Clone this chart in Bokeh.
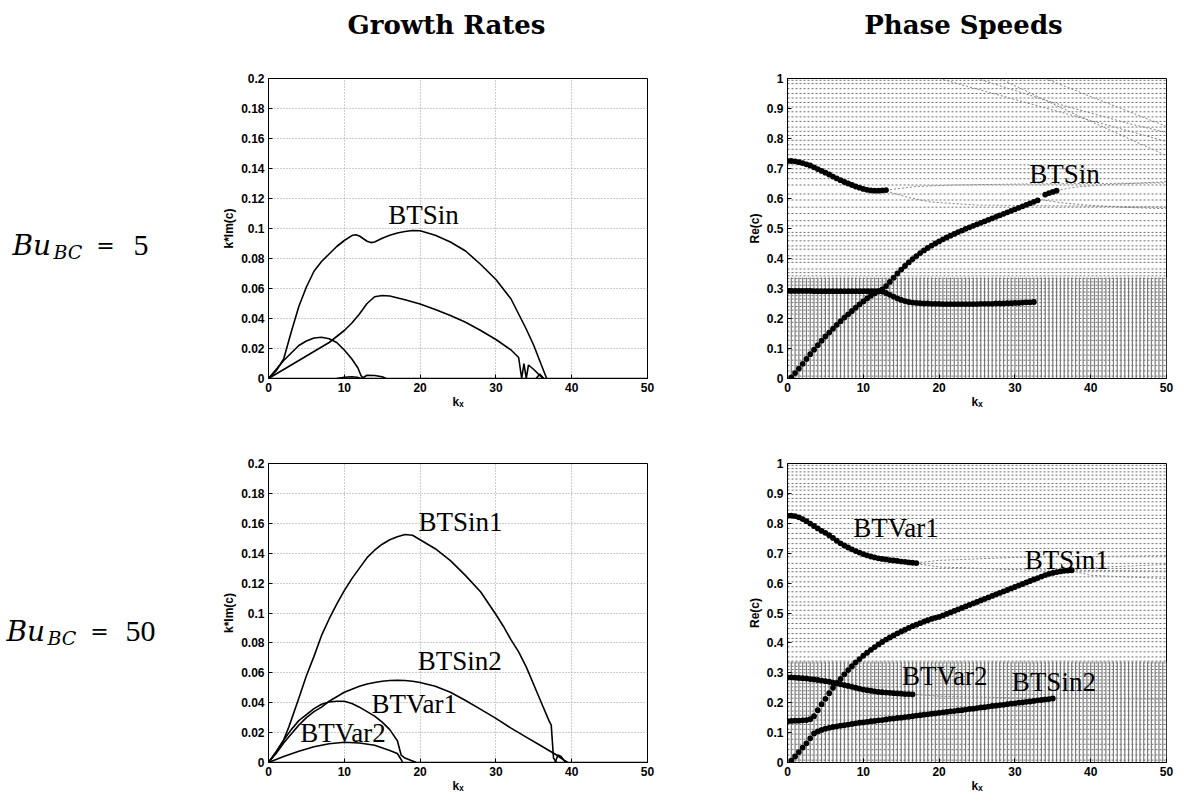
import numpy as np
from bokeh.plotting import figure
from bokeh.models import Range1d, Label, FixedTicker, CustomJSTickFormatter
from bokeh.layouts import row, column
from bokeh.embed import file_html
from bokeh.resources import INLINE

# ---------------- data ----------------
col_titles = ["Growth Rates", "Phase Speeds"]
row_values = ["5", "50"]

x_ticks = [0, 10, 20, 30, 40, 50]
g_ticks = [0, 0.02, 0.04, 0.06, 0.08, 0.1, 0.12, 0.14, 0.16, 0.18, 0.2]
c_ticks = [0, 0.1, 0.2, 0.3, 0.4, 0.5, 0.6, 0.7, 0.8, 0.9, 1.0]

# Growth rates, Bu_BC = 5
g5_a_k = [0, 1, 2, 3, 4, 5, 6, 7, 8, 9, 10, 11, 11.5, 12, 13, 13.5, 14, 15, 16, 17, 18, 19, 20, 22, 24, 26, 28, 30, 32, 34, 35, 36, 36.7]
g5_a = [0, 0.005, 0.013, 0.031, 0.048, 0.061, 0.0715, 0.078, 0.083, 0.088, 0.092, 0.0953, 0.0958, 0.095, 0.0915, 0.0906, 0.091, 0.0935, 0.0955, 0.097, 0.098, 0.0987, 0.0985, 0.0955, 0.091, 0.085, 0.076, 0.066, 0.053, 0.033, 0.022, 0.009, 0]
g5_b_k = [0, 2, 4, 6, 8, 10, 11, 12, 13, 14, 15, 16, 18, 20, 22, 24, 26, 28, 30, 32, 33, 33.4, 33.7, 34, 34.3, 35, 35.8, 36.3]
g5_b = [0, 0.006, 0.012, 0.018, 0.024, 0.032, 0.037, 0.043, 0.05, 0.0545, 0.0553, 0.055, 0.0525, 0.0497, 0.046, 0.042, 0.0375, 0.032, 0.026, 0.019, 0.014, 0.0, 0.01, 0.0, 0.009, 0.006, 0.002, 0]
g5_c_k = [0, 1, 2, 3, 4, 5, 6, 7, 8, 9, 10, 11, 11.8, 12.2, 12.5]
g5_c = [0, 0.006, 0.012, 0.017, 0.022, 0.025, 0.027, 0.0275, 0.0265, 0.024, 0.019, 0.013, 0.007, 0.002, 0]
g5_d_k = [9, 10, 11, 11.7, 12.2]
g5_d = [0, 0.0008, 0.0012, 0.0008, 0]
g5_e_k = [12.3, 13, 14, 15, 15.5]
g5_e = [0, 0.0022, 0.002, 0.0012, 0]
g5_f_k = [35.3, 35.8, 36.3]
g5_f = [0, 0.003, 0]
zero_k = [0, 50]
zero_g = [0, 0]

# Growth rates, Bu_BC = 50
g50_s1_k = [0, 1, 2, 2.7, 4, 5, 6, 7, 8, 9, 10, 11, 12, 13, 14, 15, 16, 17, 18, 19, 20, 22, 24, 26, 28, 30, 31, 32, 33, 34, 35, 36, 37, 37.3, 37.6, 38]
g50_s1 = [0, 0.007, 0.015, 0.024, 0.043, 0.058, 0.071, 0.085, 0.096, 0.106, 0.115, 0.123, 0.13, 0.137, 0.142, 0.146, 0.149, 0.151, 0.1525, 0.152, 0.149, 0.143, 0.135, 0.125, 0.114, 0.099, 0.091, 0.082, 0.074, 0.064, 0.052, 0.04, 0.028, 0.025, 0.003, 0]
g50_s2_k = [0, 1, 2, 3, 4, 5, 6, 7, 8, 9, 10, 11, 12, 13, 14, 15, 16, 17, 18, 19, 20, 22, 24, 26, 28, 30, 32, 34, 36, 38, 39, 39.5]
g50_s2 = [0, 0.006, 0.013, 0.019, 0.025, 0.03, 0.034, 0.037, 0.041, 0.044, 0.047, 0.049, 0.051, 0.0525, 0.0535, 0.0543, 0.0548, 0.055, 0.0548, 0.0543, 0.0535, 0.051, 0.047, 0.0415, 0.0355, 0.0295, 0.023, 0.017, 0.011, 0.005, 0.0015, 0]
g50_v1_k = [0, 1, 2, 3, 4, 5, 6, 7, 8, 9, 10, 11, 12, 13, 14, 15, 16, 17, 17.5, 18, 19, 19.5]
g50_v1 = [0, 0.007, 0.015, 0.022, 0.028, 0.032, 0.036, 0.039, 0.0405, 0.041, 0.041, 0.0395, 0.037, 0.034, 0.031, 0.027, 0.022, 0.0145, 0.005, 0.003, 0.001, 0]
g50_v2_k = [0, 2, 4, 6, 8, 10, 12, 14, 16, 17, 17.5, 17.7]
g50_v2 = [0, 0.004, 0.0075, 0.0105, 0.0125, 0.0135, 0.013, 0.0115, 0.008, 0.006, 0.002, 0]
g50_bump_k = [37.8, 38.2, 38.6, 39.2]
g50_bump = [0, 0.005, 0.004, 0]

# Phase speeds (sampled every K_STEP in k, starting at k0)
K_STEP = 0.5
c5_up_k0 = 0.0
c5_up = [0.725, 0.725, 0.724, 0.721, 0.718, 0.714, 0.710, 0.704, 0.698, 0.692, 0.686, 0.680, 0.673, 0.667, 0.661, 0.655, 0.650, 0.645, 0.640, 0.636, 0.632, 0.629, 0.627, 0.626, 0.626, 0.627, 0.628]
c5_rise_k0 = 0.5
c5_rise = [0.004, 0.018, 0.033, 0.049, 0.065, 0.081, 0.096, 0.111, 0.126, 0.14, 0.153, 0.166, 0.179, 0.191, 0.203, 0.214, 0.225, 0.236, 0.247, 0.257,
           0.267, 0.276, 0.284, 0.290, 0.297, 0.308, 0.322, 0.336, 0.35, 0.363, 0.375, 0.387, 0.398, 0.408, 0.418, 0.427, 0.435, 0.443, 0.45, 0.457,
           0.464, 0.47, 0.476, 0.482, 0.488, 0.493, 0.499, 0.504, 0.509, 0.514, 0.519, 0.524, 0.529, 0.534, 0.539, 0.544, 0.549, 0.554, 0.559, 0.564,
           0.569, 0.574, 0.579, 0.584, 0.589, 0.594]
c5_rise2_k0 = 34.0
c5_rise2 = [0.613, 0.618, 0.622, 0.626]
c5_flat_k0 = 0.0
c5_flat = [0.292, 0.292, 0.292, 0.292, 0.292, 0.292, 0.292, 0.291, 0.291, 0.291, 0.291, 0.291, 0.291, 0.291, 0.291, 0.291, 0.291, 0.291, 0.291, 0.291,
           0.291, 0.291, 0.291, 0.291, 0.291, 0.29, 0.285, 0.279, 0.273, 0.267, 0.262, 0.258, 0.255, 0.253, 0.252, 0.251, 0.25, 0.25, 0.249, 0.249,
           0.249, 0.248, 0.248, 0.248, 0.248, 0.248, 0.248, 0.248, 0.248, 0.248, 0.248, 0.249, 0.249, 0.249, 0.249, 0.25, 0.25, 0.25, 0.251, 0.251,
           0.252, 0.252, 0.253, 0.254, 0.254, 0.255]

c50_v1_k0 = 0.0
c50_v1 = [0.826, 0.826, 0.824, 0.82, 0.814, 0.807, 0.799, 0.791, 0.783, 0.775, 0.768, 0.76, 0.751, 0.742, 0.733, 0.726, 0.719, 0.713, 0.707, 0.702,
          0.697, 0.693, 0.689, 0.686, 0.683, 0.681, 0.679, 0.677, 0.676, 0.674, 0.672, 0.671, 0.669, 0.668, 0.667]
c50_v2_k0 = 0.0
c50_v2 = [0.285, 0.285, 0.284, 0.283, 0.282, 0.281, 0.279, 0.278, 0.276, 0.274, 0.272, 0.27, 0.267, 0.265, 0.262, 0.259, 0.256, 0.253, 0.25, 0.247,
          0.244, 0.242, 0.24, 0.238, 0.236, 0.235, 0.234, 0.233, 0.232, 0.231, 0.23, 0.229, 0.229, 0.228]
c50_s1_k0 = 0.0
c50_s1 = [0.138, 0.139, 0.14, 0.14, 0.141, 0.142, 0.145, 0.155, 0.175, 0.195, 0.213, 0.232, 0.25, 0.265, 0.28, 0.295, 0.309, 0.322, 0.335, 0.346,
          0.357, 0.367, 0.377, 0.386, 0.395, 0.403, 0.411, 0.418, 0.425, 0.432, 0.438, 0.444, 0.45, 0.456, 0.461, 0.466, 0.471, 0.476, 0.48, 0.484,
          0.487, 0.492, 0.497, 0.502, 0.507, 0.512, 0.517, 0.522, 0.527, 0.532, 0.537, 0.542, 0.547, 0.552, 0.557, 0.562, 0.567, 0.572, 0.577, 0.582,
          0.587, 0.592, 0.597, 0.602, 0.607, 0.612, 0.617, 0.622, 0.627, 0.631, 0.634, 0.637, 0.639, 0.641, 0.642, 0.643]
c50_s2_k0 = 0.5
c50_s2 = [0.006, 0.02, 0.035, 0.05, 0.064, 0.081, 0.097, 0.104, 0.109, 0.113, 0.116, 0.119, 0.121, 0.123, 0.125, 0.127, 0.129, 0.131, 0.133, 0.134,
          0.136, 0.138, 0.139, 0.141, 0.142, 0.144, 0.146, 0.147, 0.149, 0.15, 0.152, 0.153, 0.155, 0.157, 0.158, 0.16, 0.161, 0.163, 0.164, 0.166,
          0.168, 0.169, 0.171, 0.172, 0.174, 0.175, 0.177, 0.179, 0.18, 0.182, 0.184, 0.185, 0.187, 0.189, 0.19, 0.192, 0.193, 0.195, 0.197, 0.198,
          0.2, 0.201, 0.203, 0.204, 0.206, 0.208, 0.209, 0.211, 0.212, 0.214]

# neutral-mode background (phase speed rows) and continuous spectrum
k_samples = np.arange(0, 50.001, 0.5)
cont_top = 0.337
c5_rows = [0.994, 0.983, 0.966, 0.950, 0.935, 0.920, 0.905, 0.889, 0.872, 0.857, 0.838, 0.824, 0.810, 0.794, 0.779, 0.764, 0.746, 0.730, 0.712, 0.699,
           0.686, 0.666, 0.645, 0.615, 0.595, 0.571, 0.550, 0.526, 0.509, 0.487, 0.476, 0.459, 0.442, 0.431, 0.409, 0.398, 0.387, 0.365, 0.353, 0.342,
           0.333, 0.322, 0.311, 0.300, 0.288, 0.276, 0.265, 0.253, 0.240, 0.228, 0.215, 0.200, 0.187, 0.172, 0.158, 0.142, 0.127, 0.111, 0.095, 0.078,
           0.061, 0.043, 0.025, 0.008]
c5_bg_curves = [
    ([13, 17, 22, 30, 50], [0.628, 0.64, 0.645, 0.648, 0.652]),
    ([13, 16, 19, 25, 50], [0.625, 0.603, 0.588, 0.578, 0.572]),
    ([33, 36, 40, 45, 50], [0.598, 0.586, 0.577, 0.57, 0.566]),
    ([35.5, 38, 42, 50], [0.627, 0.638, 0.646, 0.656]),
    ([20, 30, 40, 50], [1.0, 0.93, 0.86, 0.79]),
    ([25, 35, 45, 50], [1.0, 0.92, 0.85, 0.82]),
    ([28, 38, 50], [1.0, 0.88, 0.743]),
    ([34, 42, 50], [1.0, 0.92, 0.84]),
]
c50_rows = [0.994, 0.983, 0.972, 0.961, 0.948, 0.933, 0.922, 0.911, 0.896, 0.883, 0.872, 0.858, 0.844, 0.827, 0.816, 0.799, 0.783, 0.766, 0.749, 0.732,
            0.716, 0.705, 0.688, 0.666, 0.649, 0.638, 0.621, 0.604, 0.588, 0.571, 0.554, 0.537, 0.526, 0.509, 0.493, 0.482, 0.465, 0.448, 0.431, 0.415,
            0.404, 0.387, 0.370, 0.353, 0.339,
            0.333, 0.322, 0.311, 0.300, 0.288, 0.276, 0.265, 0.253, 0.240, 0.228, 0.215, 0.200, 0.187, 0.172, 0.158, 0.142, 0.127, 0.111, 0.095, 0.078,
            0.061, 0.043, 0.025, 0.008]
c50_bg_curves = [
    ([17, 20, 30, 50], [0.668, 0.676, 0.686, 0.692]),
    ([17, 20, 30, 50], [0.665, 0.654, 0.645, 0.64]),
    ([37.5, 40, 50], [0.644, 0.652, 0.662]),
    ([37.5, 40, 50], [0.641, 0.626, 0.615]),
    ([16.5, 20, 30, 50], [0.228, 0.222, 0.216, 0.212]),
]

labels_g5 = [("BTSin", 15.8, 0.1087)]
labels_g50 = [("BTSin1", 19.8, 0.161), ("BTSin2", 19.7, 0.068), ("BTVar1", 13.6, 0.0393), ("BTVar2", 4.2, 0.020)]
labels_c5 = [("BTSin", 31.9, 0.681)]
labels_c50 = [("BTVar1", 8.67, 0.785), ("BTSin1", 31.3, 0.677), ("BTVar2", 15.1, 0.289), ("BTSin2", 29.6, 0.268)]

# ---------------- helpers ----------------
TICK_FONT = "Liberation Sans"
FMT = "return String(parseFloat(tick.toFixed(4)));"


def kk(k0, vals):
    return [k0 + K_STEP * i for i in range(len(vals))]


def base_fig(w, h, ml, mr, mt, mb, ymax, yticks, ylabel, grid):
    p = figure(width=w, height=h, x_range=Range1d(0, 50), y_range=Range1d(0, ymax),
               output_backend="svg", toolbar_location=None,
               min_border_left=ml, min_border_right=mr, min_border_top=mt, min_border_bottom=mb)
    p.xaxis.ticker = FixedTicker(ticks=x_ticks)
    p.yaxis.ticker = FixedTicker(ticks=yticks)
    p.yaxis.formatter = CustomJSTickFormatter(code=FMT)
    p.xaxis.formatter = CustomJSTickFormatter(code=FMT)
    for ax in p.axis:
        ax.major_tick_in = 4
        ax.major_tick_out = 0
        ax.minor_tick_line_color = None
        ax.axis_line_color = "black"
        ax.major_tick_line_color = "black"
        ax.major_label_text_font = TICK_FONT
        ax.major_label_text_font_style = "bold"
        ax.major_label_text_font_size = "12px"
        ax.major_label_text_color = "black"
        ax.major_label_standoff = 4
        ax.axis_label_text_font = TICK_FONT
        ax.axis_label_text_font_style = "bold"
        ax.axis_label_text_font_size = "12px"
        ax.axis_label_text_color = "black"
        ax.axis_label_standoff = 2
    p.xaxis.axis_label = "k\u2093"
    p.yaxis.axis_label = ylabel
    p.xaxis.axis_label_standoff = 0
    p.outline_line_color = "black"
    p.outline_line_alpha = 1.0
    p.background_fill_color = "white"
    if grid:
        p.grid.grid_line_color = "#9a9a9a"
        p.grid.grid_line_dash = "1 2"
        p.grid.grid_line_width = 1
    else:
        p.grid.grid_line_color = None
    return p


def add_labels(p, labels):
    for text, x, y in labels:
        p.add_layout(Label(x=x, y=y, text=text, text_font="Liberation Serif", text_font_size="27px",
                           text_color="black", text_align="left", text_baseline="alphabetic"))


def growth_panel(w, h, ml, mr, mt, mb, curves, labels):
    p = base_fig(w, h, ml, mr, mt, mb, 0.2, g_ticks, "k*Im(c)", True)
    for ks, gs in curves:
        p.line(ks, gs, line_color="black", line_width=1.6)
    add_labels(p, labels)
    return p


def phase_panel(w, h, ml, mr, mt, mb, rows, bg_curves, branches, labels):
    p = base_fig(w, h, ml, mr, mt, mb, 1.0, c_ticks, "Re(c)", False)
    p.segment(x0=k_samples, y0=[0] * len(k_samples), x1=k_samples, y1=[cont_top] * len(k_samples),
              line_color="#7c7c7c", line_width=1.2)
    p.multi_line(xs=[[0, 50]] * len(rows), ys=[[c, c] for c in rows],
                 line_color="#6c6c6c", line_width=1, line_dash="2 2")
    p.multi_line(xs=[c[0] for c in bg_curves], ys=[c[1] for c in bg_curves],
                 line_color="#808080", line_width=1, line_dash="2 2")
    for k0, vals in branches:
        p.scatter(kk(k0, vals), vals, marker="circle", size=5.8, fill_color="black", line_color=None)
    add_labels(p, labels)
    return p


# ---------------- panels ----------------
tl = growth_panel(519, 370, 60, 80, 30, 40,
                  [(zero_k, zero_g), (g5_a_k, g5_a), (g5_b_k, g5_b), (g5_c_k, g5_c),
                   (g5_d_k, g5_d), (g5_e_k, g5_e), (g5_f_k, g5_f)], labels_g5)
tr = phase_panel(449, 370, 60, 10, 30, 40, c5_rows, c5_bg_curves,
                 [(c5_up_k0, c5_up), (c5_rise_k0, c5_rise), (c5_rise2_k0, c5_rise2), (c5_flat_k0, c5_flat)],
                 labels_c5)
bl = growth_panel(519, 377, 60, 80, 45, 32,
                  [(zero_k, zero_g), (g50_s1_k, g50_s1), (g50_s2_k, g50_s2), (g50_v1_k, g50_v1),
                   (g50_v2_k, g50_v2), (g50_bump_k, g50_bump)], labels_g50)
br = phase_panel(449, 377, 60, 10, 45, 32, c50_rows, c50_bg_curves,
                 [(c50_v1_k0, c50_v1), (c50_v2_k0, c50_v2), (c50_s1_k0, c50_s1), (c50_s2_k0, c50_s2)],
                 labels_c50)

# ---------------- header and row labels ----------------
header = figure(width=968, height=48, x_range=Range1d(0, 968), y_range=Range1d(48, 0),
                output_backend="svg", toolbar_location=None, min_border=0,
                x_axis_type=None, y_axis_type=None, outline_line_color=None)
header.grid.visible = False
for text, x in zip(col_titles, [238, 755]):
    header.add_layout(Label(x=x, y=24, text=text, text_font="DejaVu Serif", text_font_style="bold",
                            text_font_size="26px", text_color="black", text_align="center",
                            text_baseline="alphabetic"))

left = figure(width=208, height=795, x_range=Range1d(0, 208), y_range=Range1d(795, 0),
              output_backend="svg", toolbar_location=None, min_border=0,
              x_axis_type=None, y_axis_type=None, outline_line_color=None)
left.grid.visible = False
for val, (xb, yb, xs, ys, xe, xv) in zip(row_values, [(12, 245, 53, 251, 105, 133), (6, 631, 47, 637, 99, 125)]):
    left.add_layout(Label(x=xb, y=yb, text="Bu", text_font="DejaVu Serif", text_font_style="italic",
                          text_font_size="28px", text_color="black", text_baseline="alphabetic"))
    left.add_layout(Label(x=xs, y=ys, text="BC", text_font="DejaVu Serif", text_font_style="italic",
                          text_font_size="19px", text_color="black", text_baseline="alphabetic"))
    left.add_layout(Label(x=xe, y=yb, text="=", text_font="DejaVu Serif", text_font_size="22px",
                          text_color="black", text_align="center", text_baseline="alphabetic"))
    left.add_layout(Label(x=xv, y=yb, text=val, text_font="Liberation Serif", text_font_size="30px",
                          text_color="black", text_baseline="alphabetic"))

layout = row(left, column(header, row(tl, tr), row(bl, br)))

open("out.html", "w").write(file_html(layout, INLINE))
